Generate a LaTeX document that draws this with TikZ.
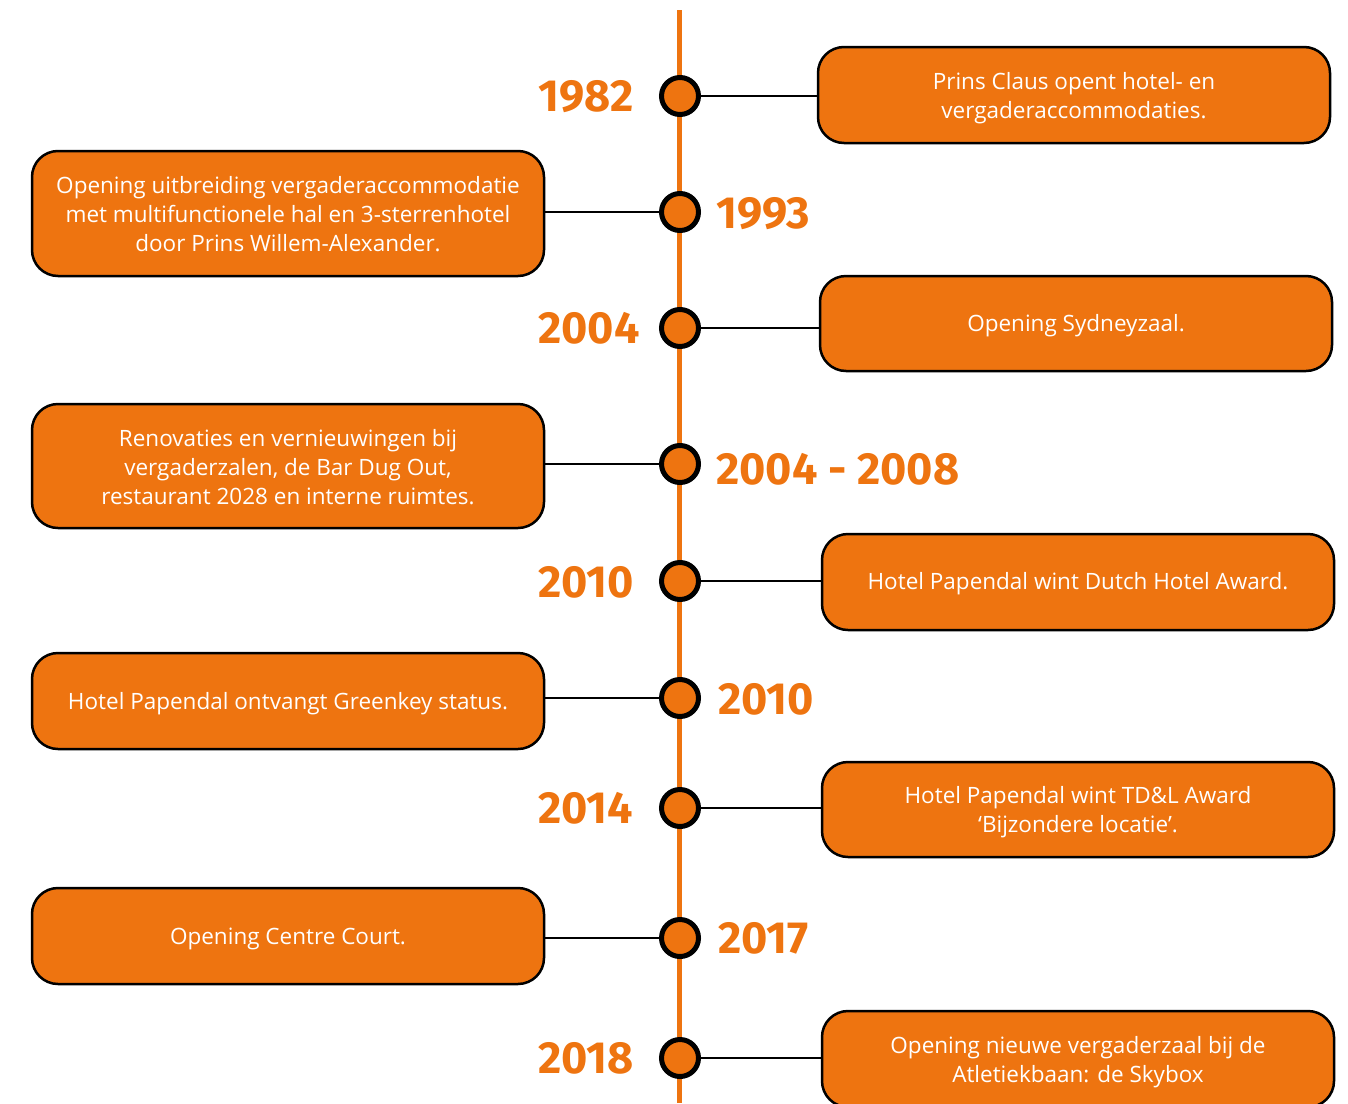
\documentclass[tikz,border=0pt]{standalone}
\usepackage{fontspec}
\setmainfont{Open Sans}
\newfontfamily\yearfont{Fira Sans}[UprightFont={* Bold}]
\definecolor{tlorange}{HTML}{EE7410}
\begin{document}
\begin{tikzpicture}[x=1pt,y=-1pt,
  event/.style={draw=black,line width=2.5pt,fill=tlorange,rounded corners=26pt,
    minimum width=512pt,text=white,align=center,inner sep=0pt,
    font=\fontsize{22.5}{29}\selectfont},
  evtext/.style={text=white,align=center,inner sep=0pt,
    font=\fontsize{22.5}{29}\selectfont},
  dot/.style={circle,draw=black,line width=5pt,fill=tlorange,minimum size=37pt,inner sep=0pt},
  year/.style={text=tlorange,font=\yearfont\fontsize{45}{46}\selectfont,inner sep=0pt},
  link/.style={draw=black,line width=2.2pt}]
\useasboundingbox (0,0) rectangle (1348,1103);
\draw[tlorange,line width=5pt] (679,10) coordinate (top) -- (679,1103) coordinate (bot);
% dots
\node[dot] (d1) at (680,96) {};
\node[dot] (d2) at (680,212) {};
\node[dot] (d3) at (680,328) {};
\node[dot] (d4) at (680,464) {};
\node[dot] (d5) at (680,581) {};
\node[dot] (d6) at (680,698) {};
\node[dot] (d7) at (680,808) {};
\node[dot] (d8) at (680,938) {};
\node[dot] (d9) at (680,1058) {};
% years
\node[year,anchor=west] (y1) at (538,97) {1982};
\node[year,anchor=west] (y2) at (716,214) {1993};
\node[year,anchor=west] (y3) at (538,328) {2004};
\node[year,anchor=west] (y4) at (716,469) {2004 - 2008};
\node[year,anchor=west] (y5) at (538,582) {2010};
\node[year,anchor=west] (y6) at (718,699) {2010};
\node[year,anchor=west] (y7) at (538,808) {2014};
\node[year,anchor=west] (y8) at (718,938) {2017};
\node[year,anchor=west] (y9) at (538,1058) {2018};
% boxes
\node[event,minimum height=96pt] (b1) at (1074,95) {};
\node[evtext] (t1) at (1074,98) {Prins Claus opent hotel- en\\vergaderaccommodaties.};
\node[event,minimum height=125pt] (b2) at (288,213.5) {};
\node[evtext] (t2) at (288,214) {Opening uitbreiding vergaderaccommodatie\\met multifunctionele hal en 3-sterrenhotel\\door Prins Willem-Alexander.};
\node[event,minimum height=95pt] (b3) at (1076,323.5) {};
\node[evtext] (t3) at (1076,326) {Opening Sydneyzaal.};
\node[event,minimum height=124pt] (b4) at (288,466) {};
\node[evtext] (t4) at (288,467) {Renovaties en vernieuwingen bij\\vergaderzalen, de Bar Dug Out,\\restaurant 2028 en interne ruimtes.};
\node[event,minimum height=96pt] (b5) at (1078,582) {};
\node[evtext] (t5) at (1078,584) {Hotel Papendal wint Dutch Hotel Award.};
\node[event,minimum height=96pt] (b6) at (288,701) {};
\node[evtext] (t6) at (288,704) {Hotel Papendal ontvangt Greenkey status.};
\node[event,minimum height=95pt] (b7) at (1078,809.5) {};
\node[evtext] (t7) at (1078,812) {Hotel Papendal wint TD\&L Award\\‘Bijzondere locatie’.};
\node[event,minimum height=96pt] (b8) at (288,936) {};
\node[evtext] (t8) at (288,939) {Opening Centre Court.};
\node[event,minimum height=96pt] (b9) at (1078,1059) {};
\node[evtext] (t9) at (1078,1062) {Opening nieuwe vergaderzaal bij de\\Atletiekbaan: de Skybox};
% links
\draw[link] (d1.east) -- (d1.east -| b1.west);
\draw[link] (d2.west) -- (d2.west -| b2.east);
\draw[link] (d3.east) -- (d3.east -| b3.west);
\draw[link] (d4.west) -- (d4.west -| b4.east);
\draw[link] (d5.east) -- (d5.east -| b5.west);
\draw[link] (d6.west) -- (d6.west -| b6.east);
\draw[link] (d7.east) -- (d7.east -| b7.west);
\draw[link] (d8.west) -- (d8.west -| b8.east);
\draw[link] (d9.east) -- (d9.east -| b9.west);
\end{tikzpicture}
\end{document}
